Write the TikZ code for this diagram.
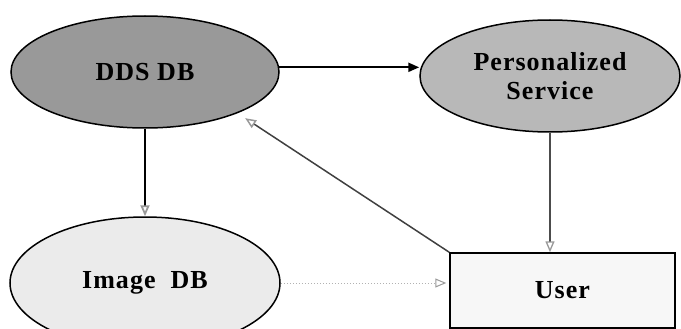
\documentclass[tikz,border=0pt]{standalone}
\usepackage{fontspec}
\setmainfont{Liberation Serif}
\usetikzlibrary{arrows.meta, shapes.geometric}

\begin{document}
\begin{tikzpicture}[x=1pt, y=-1pt,
    every node/.style={font=\fontsize{26}{29}\selectfont\bfseries\addfontfeatures{LetterSpace=4}, align=center, inner sep=0pt},
    oval/.style={ellipse, draw, line width=1.5pt},
    headdark/.style={-{Triangle[length=11pt, width=9pt]}},
    headgray/.style={-{Triangle[open, length=11pt, width=9pt, color=black!40]}}]
    % Frame
    \useasboundingbox (0,0) rectangle (681,329);
    \clip (0,0) rectangle (681,329);
    % Nodes
    \node[oval, fill=black!40, minimum width=268pt, minimum height=112pt] (dds) at (145,72) {DDS DB};
    \node[oval, fill=black!28, minimum width=260pt, minimum height=112pt] (ps) at (550,76) {Personalized\\Service};
    \node[oval, fill=black!8, minimum width=270pt, minimum height=132pt] (img) at (145,283) {Image\ \ DB};
    \node[draw, line width=1.5pt, fill=black!3, minimum width=225pt, minimum height=75pt] (user) at (562.5,290.5) {User};
    % Connectors
    \draw[headdark, line width=2.2pt] (dds.2) -- (dds.2 -| ps.west);
    \draw[headgray, line width=1.8pt] (dds.south) -- (img.north);
    \draw[headgray, line width=1.3pt, black!70] (ps.south) -- (ps.south |- user.north);
    \draw[headgray, line width=1.5pt, black!75, shorten >=9pt] (user.north west) -- (dds.-24);
    \draw[headgray, line width=1pt, black!30, dotted, shorten >=3pt] (img.east) -- (img.east -| user.west);
\end{tikzpicture}
\end{document}
